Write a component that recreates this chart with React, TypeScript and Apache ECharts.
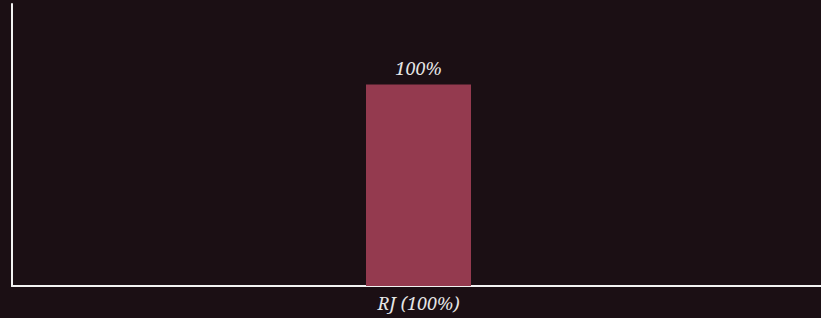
import React, { useEffect, useRef } from "react";
import * as echarts from "echarts";

const categories = ["RJ (100%)"];
const values = [100];
const valueLabels = ["100%"];

export default function App() {
  const ref = useRef<HTMLDivElement>(null);
  useEffect(() => {
    document.body.style.margin = "0";
    document.body.style.overflow = "hidden";
    document.body.style.background = "#1b0f14";
    const chart = echarts.init(ref.current!, undefined, { renderer: "svg" });
    chart.setOption({
      animation: false,
      backgroundColor: "#1b0f14",
      grid: { left: 12, right: 0, top: 4, bottom: 32, containLabel: false },
      xAxis: {
        type: "category",
        data: categories,
        axisLine: { lineStyle: { color: "#f2f2f2", width: 2 } },
        axisTick: { show: false },
        axisLabel: {
          color: "#e6e6e6",
          fontFamily: "Noto Serif",
          fontStyle: "italic",
          fontSize: 18,
          margin: 8,
        },
      },
      yAxis: {
        type: "value",
        min: 0,
        max: 140,
        axisLine: { show: true, lineStyle: { color: "#f2f2f2", width: 2 } },
        axisTick: { show: false },
        axisLabel: { show: false },
        splitLine: { show: false },
      },
      series: [
        {
          type: "bar",
          data: values,
          barWidth: 105,
          itemStyle: { color: "#943a4f" },
          label: {
            show: true,
            position: "top",
            distance: 8,
            formatter: (p: any) => valueLabels[p.dataIndex],
            color: "#e6e6e6",
            fontFamily: "Noto Serif",
            fontStyle: "italic",
            fontSize: 18,
          },
        },
      ],
    });
    return () => chart.dispose();
  }, []);
  return (
    <div style={{ width: 821, height: 318, overflow: "hidden" }}>
      <div ref={ref} style={{ width: 825, height: 318 }} />
    </div>
  );
}
